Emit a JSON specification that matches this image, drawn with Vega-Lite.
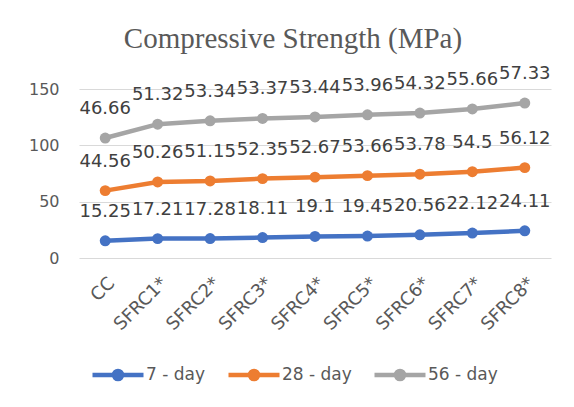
{
  "$schema": "https://vega.github.io/schema/vega-lite/v6.json",
  "width": 472,
  "height": 169,
  "autosize": {"type": "none"},
  "padding": {"left": 79, "top": 89, "right": 23, "bottom": 149},
  "background": "white",
  "title": {
    "text": "Compressive Strength (MPa)",
    "font": "Liberation Serif",
    "fontSize": 29,
    "fontWeight": "normal",
    "color": "#595959",
    "anchor": "middle",
    "dx": -22,
    "offset": 11
  },
  "config": {
    "view": {"stroke": null},
    "font": "DejaVu Sans"
  },
  "data": {
    "values": [
      {"cat": "CC", "series": "7 - day", "ord": 1, "value": 15.25},
      {"cat": "SFRC1*", "series": "7 - day", "ord": 1, "value": 17.21},
      {"cat": "SFRC2*", "series": "7 - day", "ord": 1, "value": 17.28},
      {"cat": "SFRC3*", "series": "7 - day", "ord": 1, "value": 18.11},
      {"cat": "SFRC4*", "series": "7 - day", "ord": 1, "value": 19.1},
      {"cat": "SFRC5*", "series": "7 - day", "ord": 1, "value": 19.45},
      {"cat": "SFRC6*", "series": "7 - day", "ord": 1, "value": 20.56},
      {"cat": "SFRC7*", "series": "7 - day", "ord": 1, "value": 22.12},
      {"cat": "SFRC8*", "series": "7 - day", "ord": 1, "value": 24.11},
      {"cat": "CC", "series": "28 - day", "ord": 2, "value": 44.56},
      {"cat": "SFRC1*", "series": "28 - day", "ord": 2, "value": 50.26},
      {"cat": "SFRC2*", "series": "28 - day", "ord": 2, "value": 51.15},
      {"cat": "SFRC3*", "series": "28 - day", "ord": 2, "value": 52.35},
      {"cat": "SFRC4*", "series": "28 - day", "ord": 2, "value": 52.67},
      {"cat": "SFRC5*", "series": "28 - day", "ord": 2, "value": 53.66},
      {"cat": "SFRC6*", "series": "28 - day", "ord": 2, "value": 53.78},
      {"cat": "SFRC7*", "series": "28 - day", "ord": 2, "value": 54.5},
      {"cat": "SFRC8*", "series": "28 - day", "ord": 2, "value": 56.12},
      {"cat": "CC", "series": "56 - day", "ord": 3, "value": 46.66},
      {"cat": "SFRC1*", "series": "56 - day", "ord": 3, "value": 51.32},
      {"cat": "SFRC2*", "series": "56 - day", "ord": 3, "value": 53.34},
      {"cat": "SFRC3*", "series": "56 - day", "ord": 3, "value": 53.37},
      {"cat": "SFRC4*", "series": "56 - day", "ord": 3, "value": 53.44},
      {"cat": "SFRC5*", "series": "56 - day", "ord": 3, "value": 53.96},
      {"cat": "SFRC6*", "series": "56 - day", "ord": 3, "value": 54.32},
      {"cat": "SFRC7*", "series": "56 - day", "ord": 3, "value": 55.66},
      {"cat": "SFRC8*", "series": "56 - day", "ord": 3, "value": 57.33}
    ]
  },
  "transform": [
    {"stack": "value", "groupby": ["cat"], "sort": [{"field": "ord", "order": "ascending"}], "as": ["y0", "y1"]}
  ],
  "encoding": {
    "x": {
      "field": "cat",
      "type": "nominal",
      "sort": null,
      "axis": {
        "title": null,
        "domain": false,
        "ticks": false,
        "labelAngle": -45,
        "labelFont": "DejaVu Sans",
        "labelFontSize": 18,
        "labelColor": "#595959",
        "labelPadding": 16
      }
    },
    "y": {
      "field": "y1",
      "type": "quantitative",
      "scale": {"domain": [0, 150], "nice": false},
      "axis": {
        "title": null,
        "values": [0, 50, 100, 150],
        "domain": false,
        "ticks": false,
        "tickSize": 0,
        "labelPadding": 20,
        "labelFont": "DejaVu Sans",
        "labelFontSize": 16,
        "labelColor": "#595959",
        "gridColor": "#D9D9D9",
        "gridWidth": 1
      }
    }
  },
  "layer": [
    {
      "mark": {"type": "line", "strokeWidth": 4.5, "point": {"filled": true, "size": 120}},
      "encoding": {
        "color": {
          "field": "series",
          "type": "nominal",
          "scale": {"domain": ["7 - day", "28 - day", "56 - day"], "range": ["#4472C4", "#ED7D31", "#A5A5A5"]},
          "legend": {
            "title": null,
            "orient": "none",
            "direction": "horizontal",
            "legendX": 11,
            "legendY": 258,
            "padding": 0,
            "gridAlign": "none",
            "symbolType": "M-1,0L1,0M-0.16,0A0.16,0.16,0,1,1,0.16,0A0.16,0.16,0,1,1,-0.16,0Z",
            "symbolSize": 2601,
            "symbolStrokeWidth": 4.5,
            "labelOffset": 0,
            "columnPadding": 13,
            "labelFont": "DejaVu Sans",
            "labelFontSize": 17,
            "labelColor": "#595959",
            "encode": {
              "symbols": {"update": {"fill": {"scale": "color", "field": "value"}, "stroke": {"scale": "color", "field": "value"}}}
            }
          }
        }
      }
    },
    {
      "mark": {"type": "text", "fontSize": 18, "font": "DejaVu Sans", "color": "#404040", "baseline": "middle", "dy": -29},
      "encoding": {
        "text": {"field": "value", "type": "quantitative"}
      }
    }
  ]
}
